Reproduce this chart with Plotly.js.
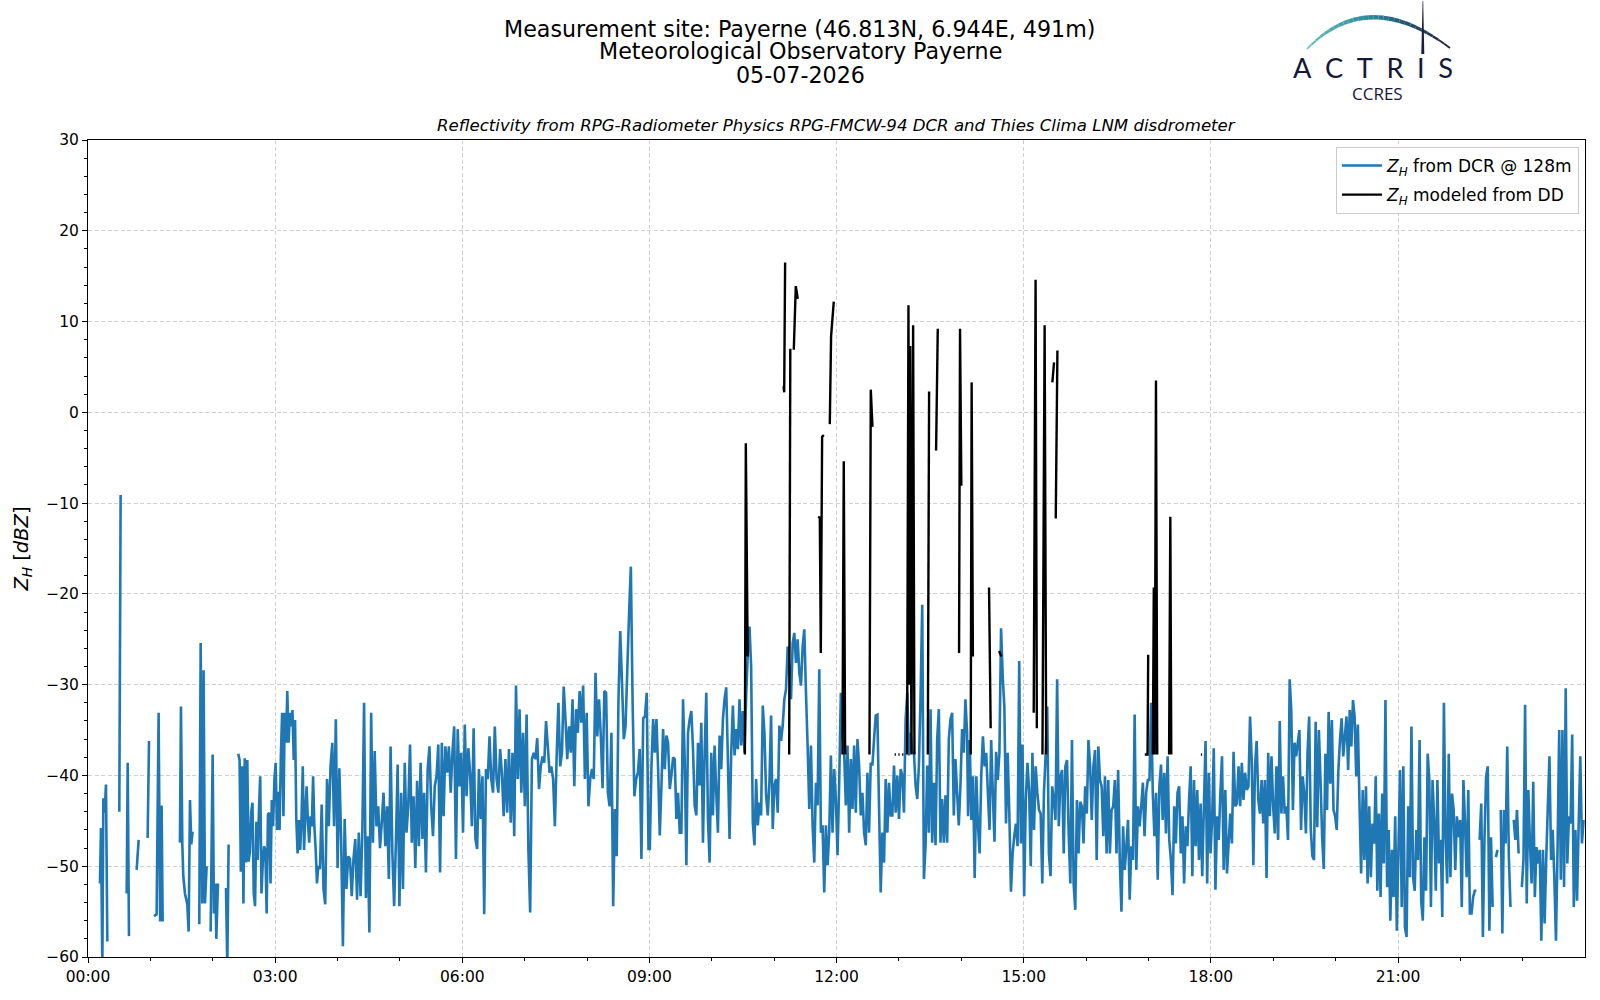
<!DOCTYPE html>
<html>
<head>
<meta charset="utf-8">
<script src="https://cdn.plot.ly/plotly-3.0.1.min.js"></script>
<style>html,body{margin:0;padding:0;background:#fff;}#chart{width:1600px;height:1000px;}</style>
</head>
<body>
<div id="chart"></div>
<script>
// ---------------- DATA ----------------
const dayDate = '2026-07-05';

// DCR reflectivity, sparse early part (hours since 00:00, dBZ; null = no data)
const dcrEarlyHours = [0.192,0.208,0.230,0.246,0.267,0.288,0.310, 0.40, 0.502,0.523, 0.57, 0.620,0.636,0.657, 0.72, 0.780,0.812, 0.88, 0.956,0.978, 1.02, 1.058,1.100,1.132,1.156,1.180,1.197, 1.30, 1.474,1.490,1.512,1.528,1.554,1.592,1.613,1.635,1.656,1.677, 1.73, 1.784,1.806,1.832,1.853,1.875,1.902, 1.93, 1.966,1.998,2.019,2.041,2.057,2.083, 2.15, 2.212,2.233,2.254, 2.33];
const dcrEarlyZ = [-51.9,-45.8,-61,-42.5,-44.1,-41,-58.3, null, -44,-9.1, null, -53,-38.6,-57.7, null, -50.4,-47.1, null, -46.9,-36.2, null, -55.5,-55.3,-33.1,-56.1,-43.3,-56.1, null, -47.4,-32.4,-47.6,-51.1,-53,-54.2,-57.2,-42.7,-47.6,-46.2, null, -56.4,-25.4,-54.1,-28.4,-54.1,-50, null, -57.2,-37.7,-55.2,-51.9,-58,-51.9, null, -52.4,-61,-47.6, null];

// DCR reflectivity, continuous part: [first hour, last hour] and evenly sampled values
const dcrSpan1 = [2.409, 3.691];
const dcrZ1 = [-37.6,-38.3,-50.6,-39,-54.1,-38.1,-49.6,-38.3,-49.5,-48.4,-44.1,-43,-53,-54.4,-45.1,-49.3,-44.1,-40.1,-53,-49.6,-47.8,-48.2,-55.2,-44.3,-44.1,-51.9,-42.7,-45.6,-40.5,-38.6,-46,-41.8,-46,-37.9,-33.1,-44.5,-33.1,-36.4,-30.7,-36.4,-33.1,-34.6,-32.8,-38.3,-33.9,-44.9,-48.6,-44.9,-48.2,-44.9,-39,-48.2,-44.1,-41.2,-45.2,-47.4,-44.5,-45.6,-40.1,-45.6,-48.2,-51.9,-50];

const dcrSpan2 = [3.718, 8.985];
const dcrZ2 = [-50.3,-43.2,-52.5,-54.2,-40.4,-45.6,-39,-36.4,-45.6,-33.8,-50.2,-39.2,-47,-58.8,-44.8,-52.5,-48.9,-49.2,-53.3,-49.2,-47,-53.7,-46.3,-53.3,-46.3,-32,-53.5,-46.7,-57.3,-33.1,-47.4,-37.3,-45.6,-43.4,-48,-45.2,-41.9,-47.8,-43.4,-51.4,-36.8,-48.5,-54.4,-47.4,-38.8,-54.4,-41.9,-52.5,-38.6,-46.3,-43.4,-36.6,-47.4,-42.3,-50.2,-40.6,-47.8,-38.6,-47,-41.9,-50.7,-39.3,-36.8,-43.4,-46.7,-41.2,-40.1,-36.6,-50.7,-36.4,-44.5,-36.8,-39.7,-36.8,-41.9,-37.5,-34.6,-49.2,-34.9,-41.2,-37.5,-46.3,-34.4,-42.3,-37,-39.7,-45.6,-34.8,-47,-48.1,-39.3,-44.8,-40.1,-55.3,-39.3,-40.4,-35.7,-40.4,-41.9,-34.6,-40.4,-41.9,-37.1,-39.7,-44.5,-38.2,-44.1,-37.1,-45.2,-37.5,-46.7,-30.1,-40.4,-32.7,-41.9,-35.3,-43.4,-33.3,-48.1,-55.1,-38.2,-37.5,-38.2,-35.9,-41.5,-39,-37.9,-38.6,-34,-36.8,-39.7,-39,-40.4,-45.6,-37.9,-32,-39,-37.5,-30.2,-33.8,-38.2,-34.6,-37.5,-31.6,-41.2,-32.7,-35.3,-30.7,-34.2,-30.1,-40.4,-33.1,-43.4,-40.4,-39.3,-40.4,-28.7,-35.7,-31.6,-35.7,-41.4,-30.7,-30.9,-41.9,-43.4,-35.3,-54.4,-43.7,-48.9,-31.6,-24.1,-29.8,-36,-34.6,-28.3,-22.1,-17,-32,-42.3,-40.4,-39.7,-37.1,-49.2,-33.7,-33.5,-30.9,-48.1];

const dcrSpan3 = [9.006, 14.092];
const dcrZ3 = [-48.1,-38.9,-33.8,-37.5,-33.8,-39.3,-46.6,-41.1,-34.9,-39.3,-35.6,-36.4,-41.5,-40,-38,-38.2,-44.8,-41.9,-46.3,-46.3,-31.6,-38.2,-49.9,-35.3,-33.8,-32.9,-37.1,-43.3,-44.4,-36.4,-41.1,-34.2,-47.4,-37.5,-30.9,-44.8,-49.6,-37.5,-44.4,-36.7,-41.9,-46.3,-35.6,-39.3,-33.8,-31.6,-30.3,-38.2,-47,-37.5,-32.3,-37.8,-34.9,-37.1,-31.6,-36.7,-32.9,-37.5,-31.2,-26.5,-23.6,-28,-45.2,-47.7,-40.4,-45.5,-43,-44.4,-32.3,-35.3,-42.2,-44.4,-40.8,-33.4,-45.9,-41.1,-40.4,-44.1,-34.5,-36.2,-34.5,-31.6,-30.5,-25.8,-28,-31.6,-25.4,-24.3,-27.6,-25,-28.7,-30.1,-25.8,-23.9,-30.9,-36.7,-43.7,-36.7,-45.5,-49.6,-40.8,-43.3,-28.3,-46.3,-45.5,-52.9,-45.5,-49.9,-46.3,-37.8,-46.3,-39.3,-42.6,-48.8,-40.8,-30.9,-35.6,-37.5,-43.3,-36.7,-46.3,-38.2,-43.7,-36.7,-44.1,-36,-38.9,-44.4,-41.9,-46.3,-47.7,-39.7,-46.3,-38.6,-38.9,-36,-33.4,-33.3,-43.7,-52.9,-46.3,-49.6,-40.4,-46.3,-40.8,-44.4,-44.4,-38.9,-44.1,-40,-44.8,-39.3,-40,-44.1,-33.8,-30.9,-37.8,-35.3,-37.5,-37.5,-41.1,-42.6,-38.9,-31.2,-21.2,-51.4,-47.7,-38.9,-46.3,-32.7,-47.4,-40.8,-47.7,-36,-32.7,-47.4,-42.6,-47.4,-42.2,-47.4,-36,-33.8,-33.1,-44.4,-38.2,-41.9,-45.5,-41.1,-34.9,-37.5,-31.6,-35.3];

const dcrSpan4 = [14.108, 19.236];
const dcrZ4 = [-44.5,-36.1,-44.9,-40.1,-51.3,-40.1,-45.6,-48.6,-39.9,-35.7,-39,-37.5,-41.9,-46,-36.1,-41.9,-47.3,-37.4,-40.5,-37.5,-23.8,-29.1,-32.4,-45.3,-37.5,-44.2,-52.8,-48.6,-46.7,-45.3,-47.8,-27.4,-47.5,-36.6,-53.3,-42.7,-38.6,-41.6,-50,-37.5,-46,-39,-41.9,-43.8,-44.2,-51.9,-41.9,-37.9,-32.4,-48.6,-51.1,-41.2,-42.7,-44.9,-29.4,-45.6,-40.1,-39.4,-48.6,-39,-38.3,-46.4,-51.9,-36.1,-51.9,-54.8,-42.7,-48.6,-42.9,-43.4,-47.5,-41.2,-44.2,-36.1,-39,-44.9,-39,-37.2,-49.3,-36.8,-40.5,-41.2,-46.7,-40.1,-48.6,-40.5,-48.6,-43.8,-43.4,-40.5,-48.6,-39.4,-49.3,-55,-45.6,-50.4,-47.8,-44.9,-53.7,-47.8,-49.3,-33.3,-50.4,-43.4,-45.6,-43.4,-40.8,-46.7,-41.9,-40.5,-40.5,-32,-41.9,-46.7,-41.9,-51.5,-41.2,-38.8,-44.9,-39.7,-46.4,-37.9,-47.1,-49.3,-53.2,-43.4,-47.5,-41.9,-41.2,-48.6,-44.5,-51.9,-45.6,-47.8,-42.7,-39,-51.1,-40.5,-47.8,-41.6,-49.3,-43.1,-51.1,-43.4,-36.2,-51.9,-39.7,-48.6,-44.9,-37,-52.6,-44.5,-47.1,-41.9,-37.9,-50.4,-41.6,-50.8,-47.5,-44.2,-47.5,-37.4,-43.4,-43.1,-39,-43.4,-38.6,-42.7,-39.7,-41.6,-41.2,-33.5,-38.3,-49.9,-39,-36.2,-42.7,-44.2,-40.5,-45.3,-40.5,-51.3,-37.5,-44.5,-37.9,-43.4,-46.4,-39,-47.1,-34,-44.2,-40.1,-44.2,-43.4,-47.1];

const dcrSpan5 = [19.263, 23.974];
const dcrZ5 = [-29.4,-32.8,-43.8,-36.4,-37.9,-36.4,-35,-46,-40.1,-42,-46.4,-37.6,-33.5,-46,-48.9,-49.3,-34.1,-45.7,-35,-40.5,-46.8,-50.3,-37.6,-43.8,-33,-40.9,-33.9,-43.8,-44.5,-46,-39.4,-36.1,-33.7,-37.9,-35.7,-33.5,-39.4,-32.8,-36.8,-31.7,-33.5,-40.1,-34.4,-43.1,-50.8,-41.6,-49.3,-41.2,-51.9,-43.4,-51.2,-45.3,-47.5,-40.1,-52.7,-44.2,-53.4,-42,-49.7,-31.7,-52.3,-46,-56,-48.2,-53.4,-44.5,-57.1,-47.9,-39.4,-54.5,-39,-56.7,-57.8,-43.4,-51.2,-34.6,-51.2,-52.7,-46,-49.3,-36.1,-53.8,-56,-46.8,-52.7,-37.6,-40.5,-54.5,-40.5,-44.9,-52.7,-40.5,-49.7,-47.1,-55.6,-32,-46.8,-51.9,-37.6,-51.2,-42,-43.8,-50.4,-44.5,-46.8,-44.9,-54.5,-40.5,-45.3,-51.2,-41.6,-55.2,-55.2,-53.4,-52.7,-52.7,null,-47.1,-43.1,-57.8,-46.8,-40.1,-39,-57.1,-46.8,-54.5,null,-49,-48.2,null,-43.8,-57.4,-43.8,-47.5,-36.8,-49,-54.5,null,-44.9,-47.1,-43.8,-48.6,null,-52.3,-49.3,-32.2,-54.1,-41.6,-47.5,-51.9,-40.7,-53.4,-47.9,-49.7,-48.2,-58.2,-48.2,-56.3,-49.3,-43.4,-37.9,-49.3,-46,-51.2,-58.2,-47.9,-35,-51.5,-35,-52.3,-30.4,-49.7,-44.5,-45.3,-35.5,-54.5,-46,-53.8,-45.3,-37.9,-47.5,-44.9];

// Reflectivity modelled from the disdrometer (hours, dBZ; null = no rain / no data)
const ddHours = [10.53,10.545,10.575, 10.6, 11.15,11.16,11.175, 11.2, 11.24,11.258, 11.28, 11.314,11.346,11.378, 11.5, 11.704,11.731,11.747,11.768,11.795, 11.85, 11.891,11.912,11.955, 12.0, 12.094,12.115,12.137, 12.3, 12.527,12.548,12.575, 12.7, 12.93,12.95, 12.97, 12.99,13.01, 13.03, 13.05,13.07, 13.1, 13.13,13.152,13.165,13.18,13.2,13.227,13.248, 13.35, 13.462,13.483, 13.55, 13.595,13.622, 13.8, 13.963,13.979,14.0, 14.1, 14.15,14.165,14.185, 14.3, 14.444,14.47, 14.55, 14.605,14.642, 14.9, 15.16,15.19,15.21, 15.25, 15.30,15.335,15.36, 15.4, 15.459,15.486, 15.5, 15.513,15.54, 16.0, 16.94,16.965,16.985,16.995, 17.03, 17.07,17.085,17.1,17.12,17.14, 17.2, 17.33,17.35,17.365, 17.6, 17.84,17.86];
const ddZ = [-37.7,-3.4,-26.9, null, 2.9,2.2,16.5, null, -37.7,7.0, null, 6.9,13.9,12.5, null, -11.5,-11.6,-26.5,-2.7,-2.5, null, -1.3,8.4,12.2, null, -37.7,-5.4,-37.7, null, -37.7,2.5,-1.6, null, -37.7,-37.7, null, -37.7,-37.7, null, -37.7,-37.7, null, -37.7,11.8,-30,7.3,-37.7,9.6,-37.7, null, -37.7,2.3, null, -4.2,9.2, null, -26.5,9.2,-8.1, null, -37.7,3.3,-26.9, null, -19.3,-34.8, null, -26.3,-26.9, null, -33.1,14.6,-34.8, null, -37.7,9.6,-37.7, null, 3.3,5.5, null, -11.7,6.8, null, -37.7,-37.7,-37.7,-26.7, null, -37.7,-19.3,-37.7,3.5,-37.7, null, -37.7,-11.5,-37.7, null, -37.7,-37.7];

// Text
const titleLines = ['Measurement site: Payerne (46.813N, 6.944E, 491m)', 'Meteorological Observatory Payerne', '05-07-2026'];
const subTitle = 'Reflectivity from RPG-Radiometer Physics RPG-FMCW-94 DCR and Thies Clima LNM disdrometer';
const legendNames = ['<i>Z</i><sub><i>H</i></sub> from DCR @ 128m', '<i>Z</i><sub><i>H</i></sub> modeled from DD'];
const yTitle = '<i>Z</i><sub><i>H</i></sub> [<i>dBZ</i>]';

// ---------------- BUILD ----------------
function pad(n){ return String(n).padStart(2,'0'); }
function stamp(h){
  let s = Math.round(h*3600);
  const hh = Math.floor(s/3600), mm = Math.floor((s%3600)/60), ss = s%60;
  return dayDate + ' ' + pad(hh) + ':' + pad(mm) + ':' + pad(ss);
}
function spreadTimes(span, vals){
  const n = vals.length;
  return vals.map((_, i) => stamp(span[0] + (span[1]-span[0]) * i / (n-1)));
}
const dcrX = dcrEarlyHours.map(stamp)
  .concat(spreadTimes(dcrSpan1, dcrZ1), spreadTimes(dcrSpan2, dcrZ2), spreadTimes(dcrSpan3, dcrZ3), spreadTimes(dcrSpan4, dcrZ4), spreadTimes(dcrSpan5, dcrZ5));
const dcrY = dcrEarlyZ.concat(dcrZ1, dcrZ2, dcrZ3, dcrZ4, dcrZ5);
const ddX = ddHours.map(stamp);

const FONT = 'DejaVu Sans, Liberation Sans, sans-serif';

const traces = [
  {x: dcrX, y: dcrY, type: 'scatter', mode: 'lines', name: legendNames[0], legendgroup: 'dcr',
   line: {color: '#1f77b4', width: 2.6, simplify: false}, connectgaps: false, hoverinfo: 'skip'},
  {x: ddX, y: ddZ, type: 'scatter', mode: 'lines', name: legendNames[1], legendgroup: 'dd',
   line: {color: '#000000', width: 2.4, simplify: false}, connectgaps: false, hoverinfo: 'skip'}
];

// Plot area in pixels (for decoration placement)
const L = 88, R = 1585, T = 140, B = 957;
function px(x){ return (x - L) / (R - L); }
function py(y){ return (B - y) / (B - T); }

// ACTRIS logo arc (decoration): quadratic bezier split into coloured segments
const shapes = [];
const P0 = [1307, 49], C1 = [1368, -14], P2 = [1450, 48];
const cA = [100, 196, 190], cB = [42, 132, 152], cC = [27, 29, 64];
function mix(a, b, t){ return a.map((v, i) => Math.round(v + (b[i]-v)*t)); }
const NSEG = 28;
function bz(t){
  const u = 1 - t;
  return [u*u*P0[0] + 2*u*t*C1[0] + t*t*P2[0], u*u*P0[1] + 2*u*t*C1[1] + t*t*P2[1]];
}
for (let i = 0; i < NSEG; i++){
  const t0 = i/NSEG, t1 = (i+1)/NSEG, tm = (t0+t1)/2;
  const a = bz(t0), b = bz(t1);
  const col = tm < 0.5 ? mix(cA, cB, tm/0.5) : mix(cB, cC, (tm-0.5)/0.5);
  const w = 1.5 + 3.0*Math.sin(Math.PI*tm);
  shapes.push({type: 'path', xref: 'paper', yref: 'paper', layer: 'above',
    path: 'M' + px(a[0]) + ',' + py(a[1]) + ' L' + px(b[0]) + ',' + py(b[1]),
    line: {color: 'rgb(' + col.join(',') + ')', width: w}});
}
shapes.push({type: 'path', xref: 'paper', yref: 'paper', layer: 'above',
  path: 'M' + px(1421.3) + ',' + py(54) + ' L' + px(1424.3) + ',' + py(54) + ' L' + px(1423.2) + ',' + py(1) + ' L' + px(1422.6) + ',' + py(1) + ' Z',
  fillcolor: '#1b1d40', line: {width: 0}});

const annotations = [
  {text: titleLines[0], x: px(800), y: py(28.8), xref: 'paper', yref: 'paper', showarrow: false, xanchor: 'center', yanchor: 'middle', font: {family: FONT, size: 22.2, color: '#000'}},
  {text: titleLines[1], x: px(800), y: py(51.2), xref: 'paper', yref: 'paper', showarrow: false, xanchor: 'center', yanchor: 'middle', font: {family: FONT, size: 22.2, color: '#000'}},
  {text: titleLines[2], x: px(800), y: py(75), xref: 'paper', yref: 'paper', showarrow: false, xanchor: 'center', yanchor: 'middle', font: {family: FONT, size: 22.2, color: '#000'}},
  {text: '<i>' + subTitle + '</i>', x: 0.5, y: py(125.5), xref: 'paper', yref: 'paper', showarrow: false, xanchor: 'center', yanchor: 'middle', font: {family: FONT, size: 16.6, color: '#000'}},
  {text: 'A\u2002C\u2002T\u2002R\u2002I\u2002S', x: px(1373), y: py(67), xref: 'paper', yref: 'paper', showarrow: false, xanchor: 'center', yanchor: 'middle', font: {family: 'Lato, Open Sans, sans-serif', size: 27.2, color: '#161838'}},
  {text: 'CCRES', x: px(1377), y: py(93.5), xref: 'paper', yref: 'paper', showarrow: false, xanchor: 'center', yanchor: 'middle', font: {family: 'Open Sans, Noto Sans, sans-serif', size: 17, color: '#161838'}}
];

const layout = {
  width: 1600, height: 1000,
  margin: {l: L, r: 1600 - R, t: T, b: 1000 - B, pad: 0},
  paper_bgcolor: '#ffffff', plot_bgcolor: '#ffffff',
  font: {family: FONT, size: 15.5, color: '#000'},
  showlegend: true,
  legend: {x: px(1579), y: py(147), xanchor: 'right', yanchor: 'top',
    bgcolor: 'rgba(255,255,255,0.85)', bordercolor: '#cccccc', borderwidth: 1,
    font: {family: FONT, size: 17, color: '#000'}, itemwidth: 40, tracegroupgap: 4},
  xaxis: {
    type: 'date', range: [dayDate + ' 00:00:00', dayDate + ' 23:59:50'],
    tick0: dayDate + ' 00:00:00', dtick: 3*3600000, tickformat: '%H:%M',
    ticks: 'outside', ticklen: 5, tickwidth: 1, tickcolor: '#000',
    showline: true, linecolor: '#000', linewidth: 1, mirror: true,
    showgrid: true, gridcolor: '#d0d0d0', griddash: '4px,2.5px', gridwidth: 1,
    zeroline: false, tickfont: {family: FONT, size: 15.5, color: '#000'},
    minor: {dtick: 3600000, tick0: dayDate + ' 00:00:00', ticks: 'outside', ticklen: 3, tickwidth: 1, tickcolor: '#000', showgrid: false}
  },
  yaxis: {
    range: [-60, 30], dtick: 10, tick0: 0,
    ticks: 'outside', ticklen: 5, tickwidth: 1, tickcolor: '#000',
    showline: true, linecolor: '#000', linewidth: 1, mirror: true,
    showgrid: true, gridcolor: '#d0d0d0', griddash: '4px,2.5px', gridwidth: 1,
    zeroline: false, tickfont: {family: FONT, size: 15.5, color: '#000'},
    minor: {dtick: 2, ticks: 'outside', ticklen: 3, tickwidth: 1, tickcolor: '#000', showgrid: false},
    title: {text: yTitle, standoff: 12, font: {family: FONT, size: 19.5, color: '#000'}}
  },
  annotations: annotations,
  shapes: shapes
};

Plotly.newPlot('chart', traces, layout, {staticPlot: true, displayModeBar: false});
</script>
</body>
</html>
